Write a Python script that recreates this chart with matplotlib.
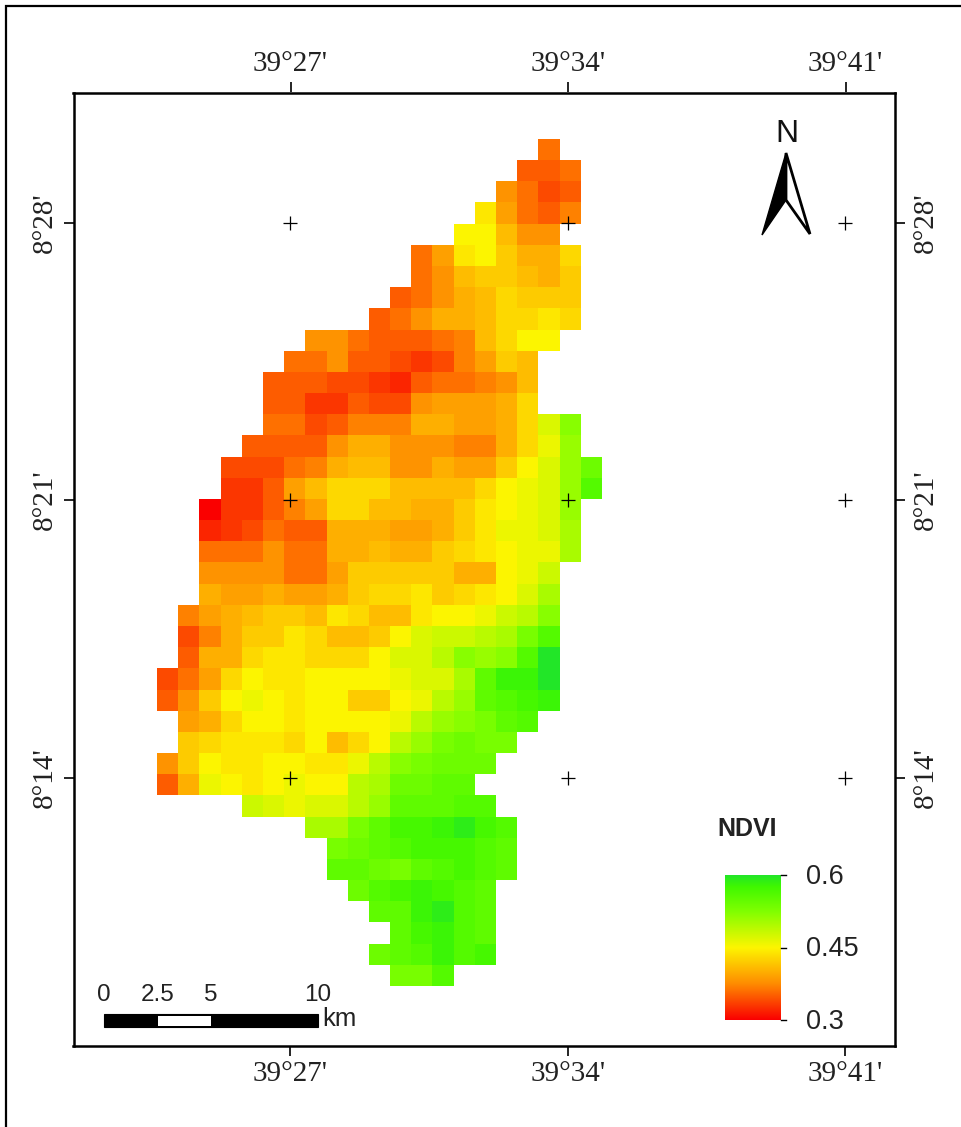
import numpy as np
import matplotlib
matplotlib.use("Agg")
import matplotlib.pyplot as plt
from matplotlib.colors import LinearSegmentedColormap
from matplotlib.patches import Polygon, Rectangle

W, H = 961, 1127

# NDVI x 100, one list per grid row (north to south), with the first occupied column
row_start = [18, 17, 16, 15, 14, 12, 12, 11, 10, 7, 6, 5, 5, 5, 4, 3, 3, 2, 2, 2,
             2, 2, 1, 1, 1, 0, 0, 1, 1, 0, 0, 4, 7, 8, 8, 9, 10, 11, 10, 11]
ndvi_rows = [
    [36],
    [35, 35, 36],
    [38, 36, 34, 35],
    [44, 39, 36, 35, 37],
    [45, 45, 41, 38, 38],
    [36, 39, 44, 45, 42, 40, 40, 43],
    [36, 38, 41, 42, 42, 41, 40, 42],
    [35, 36, 38, 40, 41, 43, 42, 42, 42],
    [35, 36, 38, 40, 40, 41, 43, 43, 44, 43],
    [38, 38, 36, 35, 35, 35, 36, 37, 41, 43, 45, 45],
    [36, 36, 38, 35, 35, 34, 33, 34, 37, 39, 42, 41],
    [35, 35, 35, 34, 34, 33, 32, 35, 36, 36, 37, 38, 41],
    [35, 35, 33, 33, 35, 34, 34, 38, 39, 39, 39, 40, 43],
    [36, 36, 34, 35, 37, 37, 37, 40, 40, 39, 39, 40, 43, 47, 52],
    [35, 35, 35, 35, 38, 40, 40, 38, 38, 38, 37, 37, 40, 43, 46, 51],
    [34, 34, 34, 36, 37, 40, 41, 41, 38, 38, 40, 39, 39, 42, 45, 47, 51, 54],
    [33, 33, 35, 39, 41, 43, 43, 43, 41, 41, 41, 41, 43, 45, 46, 47, 51, 56],
    [30, 33, 33, 35, 37, 39, 43, 43, 41, 41, 40, 40, 42, 44, 45, 46, 47, 51],
    [32, 33, 34, 36, 35, 35, 40, 40, 40, 39, 39, 40, 42, 44, 46, 46, 47, 50],
    [36, 36, 36, 38, 36, 36, 40, 40, 41, 40, 40, 42, 43, 44, 45, 46, 46, 50],
    [38, 38, 38, 38, 36, 36, 39, 42, 42, 42, 42, 42, 40, 40, 45, 46, 48],
    [40, 39, 39, 40, 39, 39, 40, 42, 43, 43, 44, 42, 43, 44, 45, 47, 50],
    [37, 39, 40, 41, 42, 42, 41, 44, 43, 41, 41, 44, 45, 45, 46, 48, 49, 52],
    [34, 37, 40, 42, 42, 44, 43, 41, 41, 42, 45, 47, 48, 48, 49, 50, 53, 56],
    [35, 40, 40, 43, 44, 44, 43, 43, 43, 45, 47, 47, 49, 52, 51, 52, 56, 60],
    [34, 36, 39, 43, 45, 44, 44, 45, 45, 45, 45, 46, 47, 47, 50, 55, 58, 58, 60],
    [35, 38, 42, 45, 46, 45, 44, 45, 45, 42, 42, 45, 46, 49, 51, 55, 56, 57, 58],
    [39, 40, 43, 45, 45, 44, 45, 45, 45, 45, 46, 49, 51, 52, 53, 55, 56],
    [42, 43, 44, 44, 44, 43, 45, 41, 43, 45, 49, 51, 53, 54, 53, 53],
    [38, 42, 45, 44, 44, 45, 45, 44, 44, 46, 49, 52, 53, 54, 54, 54],
    [35, 40, 46, 45, 44, 45, 46, 45, 45, 49, 50, 54, 54, 55, 55],
    [48, 47, 46, 47, 47, 49, 51, 55, 55, 55, 56, 56],
    [50, 50, 53, 55, 57, 57, 58, 59, 57, 56],
    [53, 54, 55, 56, 57, 57, 57, 56, 55],
    [55, 55, 54, 53, 55, 56, 57, 56, 55],
    [54, 56, 57, 58, 57, 56, 55],
    [55, 55, 58, 59, 56, 55],
    [55, 57, 58, 56, 55],
    [54, 55, 56, 58, 56, 57],
    [53, 53, 56],
]
lon_ticks = [27, 34, 41]          # minutes past 39 degrees
lat_ticks = [14, 21, 28]          # minutes past 8 degrees
lon_labels = ["39°27'", "39°34'", "39°41'"]
lat_labels = ["8°14'", "8°21'", "8°28'"]
legend_ticks = [0.3, 0.45, 0.6]
legend_labels = ["0.3", "0.45", "0.6"]
scale_ticks = [0, 2.5, 5, 10]
scale_labels = ["0", "2.5", "5", "10"]

# Geometry: reference pixels
AX_L, AX_R, AX_T, AX_B = 73.5, 895.0, 92.5, 1045.5
PX_PER_MIN = 277.5 / 7
X27, Y28 = 290.5, 222.5
CELL = 21.16
GRID_L, GRID_T = 156.7, 140.0


def px2lon(x):
    return 27 + (x - X27) / PX_PER_MIN


def py2lat(y):
    return 28 + (Y28 - y) / PX_PER_MIN


ndvi = np.full((len(ndvi_rows), 21), np.nan)
for r, (s, vals) in enumerate(zip(row_start, ndvi_rows)):
    ndvi[r, s:s + len(vals)] = np.array(vals) / 100

cmap = LinearSegmentedColormap.from_list(
    "ndvi", [(0.0, "#fa0000"), (0.25, "#ff8c00"), (0.5, "#fdf500"),
             (0.75, "#80ff00"), (0.92, "#40f800"), (1.0, "#22e628")])
cmap.set_bad((1, 1, 1, 0))

plt.rcParams["font.family"] = ["Liberation Sans", "DejaVu Sans"]
fig = plt.figure(figsize=(W / 100, H / 100), dpi=100)

# Outer frame (open on right and bottom, cropped by the picture edge)
bg = fig.add_axes([0, 0, 1, 1])
bg.set_xlim(0, W)
bg.set_ylim(H, 0)
bg.axis("off")
bg.plot([5.5, 5.5, W], [H, 5.5, 5.5], color="black", lw=1.6,
        solid_joinstyle="miter")

ax = fig.add_axes([AX_L / W, 1 - AX_B / H, (AX_R - AX_L) / W, (AX_B - AX_T) / H])
ax.imshow(ndvi, cmap=cmap, vmin=0.3, vmax=0.6, interpolation="nearest", aspect="auto",
          extent=[px2lon(GRID_L), px2lon(GRID_L + 21 * CELL),
                  py2lat(GRID_T + 40 * CELL), py2lat(GRID_T)], zorder=1)
ax.set_xlim(px2lon(AX_L), px2lon(AX_R))
ax.set_ylim(py2lat(AX_B), py2lat(AX_T))

for s in ax.spines.values():
    s.set_linewidth(1.8)
label_style = dict(fontfamily="Liberation Serif", fontsize=21, color="#222222")
ax.set_xticks(lon_ticks, lon_labels, **label_style)
ax.set_yticks(lat_ticks, lat_labels, rotation=90, va="center", **label_style)
ax.tick_params(axis="x", length=7, width=1.2, pad=4)
ax.tick_params(axis="y", length=7, width=1.2, pad=4)

top = ax.secondary_xaxis("top")
top.set_xticks(lon_ticks, lon_labels, **label_style)
top.tick_params(axis="x", length=7, width=1.2, pad=4)
top.spines["top"].set_visible(False)
right = ax.secondary_yaxis("right")
right.set_yticks(lat_ticks, lat_labels, rotation=90, va="center", **label_style)
right.tick_params(axis="y", length=7, width=1.2, pad=6)
right.spines["right"].set_visible(False)

# Graticule crosses
gx, gy = np.meshgrid(lon_ticks, lat_ticks)
ax.plot(gx.ravel(), gy.ravel(), ls="none", marker="+", ms=9.5, mew=0.9,
        color="black", zorder=3)

# Overlay in pixel coordinates for map furniture
ov = fig.add_axes([0, 0, 1, 1], facecolor="none")
ov.axis("off")

# North arrow
ov.add_patch(Polygon([(786, 153), (786, 200), (762, 235)], closed=True,
                     fc="black", ec="black", lw=1))
ov.add_patch(Polygon([(786, 153), (810, 234), (786, 200)], closed=True,
                     fc="white", ec="black", lw=2, joinstyle="miter"))
ov.text(787, 134, "N", ha="center", va="center", fontsize=23, color="#111111")

# Legend
ov.text(747, 829, "NDVI", ha="center", va="center", fontsize=18, fontweight="bold",
        color="#222222")
BAR_L, BAR_R, BAR_T, BAR_B = 725, 781, 875, 1020
gradient = np.linspace(0.6, 0.3, 256).reshape(-1, 1)
ov.imshow(gradient, cmap=cmap, vmin=0.3, vmax=0.6, aspect="auto",
          extent=[BAR_L, BAR_R, BAR_B, BAR_T], zorder=2)
ov.set_xlim(0, W)
ov.set_ylim(H, 0)
for v, t in zip(legend_ticks, legend_labels):
    y = BAR_B + (v - 0.3) / 0.3 * (BAR_T - BAR_B)
    ov.plot([BAR_R, BAR_R + 5], [y, y], color="black", lw=1)
    ov.text(806, y + 2, t, ha="left", va="center", fontsize=19.5, color="#222222")

# Scale bar
SB_L, SB_R, SB_T, SB_B = 104, 318, 1014, 1027
px_per_km = (SB_R - SB_L) / 10
ov.add_patch(Rectangle((SB_L, SB_T), SB_R - SB_L, SB_B - SB_T, fc="black", ec="black", lw=0.8))
ov.add_patch(Rectangle((SB_L + 2.5 * px_per_km, SB_T + 1.5), 2.5 * px_per_km, SB_B - SB_T - 3,
                       fc="white", ec="none"))
for v, t in zip(scale_ticks, scale_labels):
    ov.text(SB_L + v * px_per_km, 995, t, ha="center", va="center", fontsize=17.5,
            color="#222222")
ov.text(322, 1019, "km", ha="left", va="center", fontsize=18.5, color="#222222")

fig.savefig("out.png", dpi=100, facecolor="white")
